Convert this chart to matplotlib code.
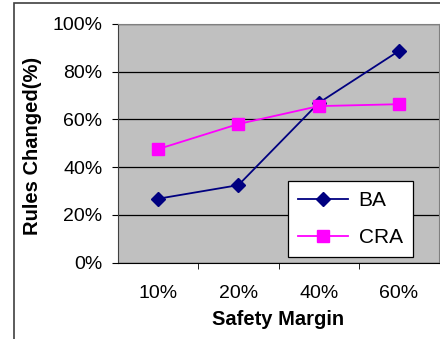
import matplotlib
matplotlib.use("Agg")
import matplotlib.pyplot as plt
from matplotlib.patches import Rectangle
from matplotlib.ticker import FixedLocator, PercentFormatter

plt.rcParams['font.family'] = ['Liberation Sans', 'DejaVu Sans']

margins = ['10%', '20%', '40%', '60%']
ba = [26.8, 32.5, 66.9, 88.7]
cra = [47.6, 58.1, 65.6, 66.4]

fig = plt.figure(figsize=(4.4, 3.39), dpi=100)

# outer chart frame (runs off the right and bottom edges)
fig.patches.append(Rectangle((14 / 440, -0.1), 1.2, 1 - 3 / 339 + 0.1,
                             transform=fig.transFigure, fill=False,
                             edgecolor='#404040', linewidth=1.2))

ax = fig.add_axes([118 / 440, 1 - 262.7 / 339, 321 / 440, (262.7 - 24) / 339])
ax.set_facecolor('#C0C0C0')

x = range(len(margins))
ax.plot(x, ba, color='#000080', marker='D', markersize=7, linewidth=1.3, label='BA')
ax.plot(x, cra, color='#FF00FF', marker='s', markersize=8, linewidth=1.3, label='CRA')

ax.set_ylim(0, 100)
ax.set_xlim(-0.5, len(margins) - 0.5)
ax.set_yticks(range(0, 101, 20))
ax.yaxis.set_major_formatter(PercentFormatter(decimals=0))
ax.set_xticks(list(x))
ax.set_xticklabels(margins)
ax.xaxis.set_minor_locator(FixedLocator([0.5, 1.5, 2.5]))

ax.grid(axis='y', color='black', linewidth=0.9)
ax.set_axisbelow(True)
for side in ['top', 'right']:
    ax.spines[side].set_color('#808080')
ax.spines['left'].set_color('#404040')
ax.spines['bottom'].set_color('black')

ax.tick_params(axis='y', length=4.3, pad=7, labelsize=14, direction='out')
ax.tick_params(axis='x', which='major', length=0, pad=16, labelsize=14)
ax.tick_params(axis='x', which='minor', length=4, direction='out')

ax.set_ylabel('Rules Changed(%)', fontsize=14.5, fontweight='bold')
ax.yaxis.set_label_coords(-(118 - 42) / 321, 0.49)
ax.set_xlabel('Safety Margin', fontsize=14.5, fontweight='bold', labelpad=6)

leg = ax.legend(loc='lower right', bbox_to_anchor=(413 / 440, 1 - 257.3 / 339),
                bbox_transform=fig.transFigure, borderaxespad=0,
                fontsize=15, frameon=True, fancybox=False, edgecolor='black',
                framealpha=1, handlelength=2.4, handletextpad=0.5,
                borderpad=0.5, labelspacing=0.85)
leg.get_frame().set_linewidth(0.9)

fig.savefig('out.png', dpi=100)
